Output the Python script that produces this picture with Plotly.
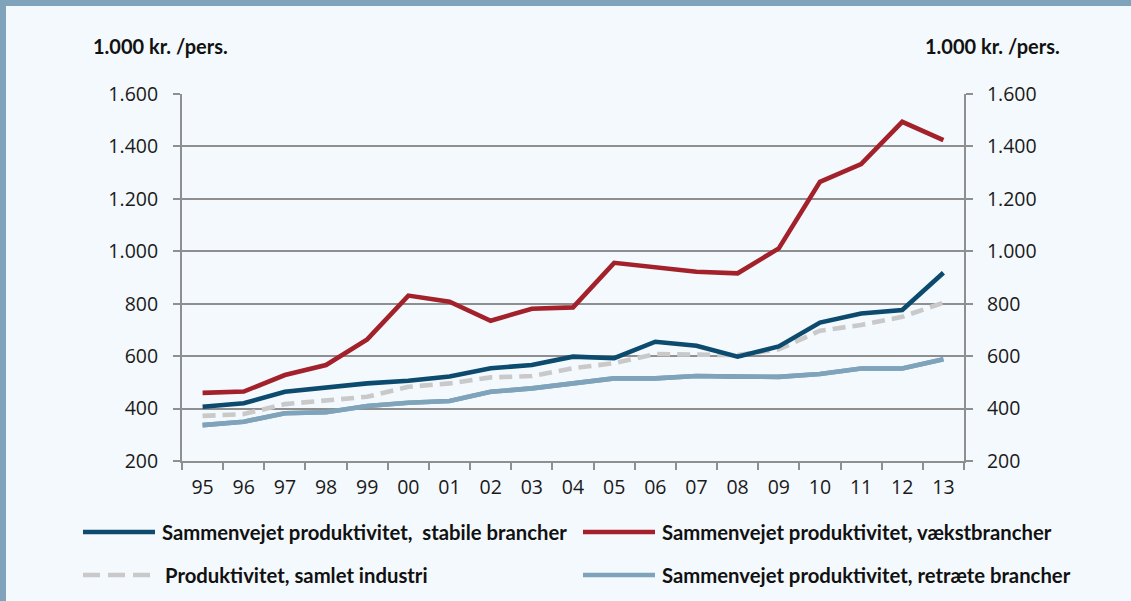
import plotly.graph_objects as go

years = ["95", "96", "97", "98", "99", "00", "01", "02", "03", "04",
         "05", "06", "07", "08", "09", "10", "11", "12", "13"]
stabile = [407, 420, 464, 481, 496, 506, 522, 554, 566, 598,
           592, 655, 640, 598, 637, 728, 763, 776, 918]
vaekst = [460, 465, 528, 566, 664, 831, 808, 735, 781, 786,
          956, 939, 922, 916, 1011, 1265, 1333, 1494, 1424]
samlet = [372, 379, 417, 430, 445, 483, 496, 519, 524, 554,
          573, 608, 608, 604, 626, 697, 719, 750, 804]
retraete = [337, 350, 382, 386, 410, 422, 429, 464, 477, 496,
            515, 515, 524, 522, 521, 532, 553, 553, 588]

names = ["Sammenvejet produktivitet,  stabile brancher",
         "Sammenvejet produktivitet, vækstbrancher",
         "Produktivitet, samlet industri",
         "Sammenvejet produktivitet, retræte brancher"]
colors = ["#0c4a6e", "#a3212a", "#c9c9c9", "#7fa3ba"]
dashes = ["solid", "solid", "13px,7px", "solid"]
unit_label = "1.000 kr. /pers."

W, H = 1131, 601
L, R, T, B = 182, 964, 94, 461
pw, ph = R - L, B - T


def px(x):
    return (x - L) / pw


def py(y):
    return (B - y) / ph


fig = go.Figure()
series = [stabile, vaekst, samlet, retraete]
order = [3, 2, 0, 1]
for i in order:
    fig.add_trace(go.Scatter(
        x=years, y=series[i], mode="lines", name=names[i],
        line=dict(color=colors[i], width=4.6, dash=dashes[i]),
        showlegend=False, hoverinfo="skip"))
fig.add_trace(go.Scatter(x=years, y=retraete, yaxis="y2", mode="lines",
                         line=dict(color=colors[3], width=4.6),
                         showlegend=False, hoverinfo="skip"))

gridc = "#8f8f8f"
tickfont = dict(family="Open Sans, Noto Sans, sans-serif", size=19.5, color="#1a1a1a")
fig.update_layout(
    width=W, height=H,
    margin=dict(l=L, r=W - R, t=T, b=H - B, pad=0),
    paper_bgcolor="#f4f9fd", plot_bgcolor="#f4f9fd",
    separators=",.",
    xaxis=dict(type="category", range=[-0.5, len(years) - 0.5],
               showline=True, linecolor=gridc, linewidth=2,
               ticks="outside", tickson="boundaries", ticklen=7, tickcolor=gridc,
               tickwidth=2, showgrid=False, tickfont=tickfont, ticklabelstandoff=8),
    yaxis=dict(range=[200, 1600], dtick=200, tickformat=",d", showline=True,
               linecolor=gridc, linewidth=2, ticks="outside", ticklen=7,
               tickcolor=gridc, tickwidth=2, gridcolor=gridc, gridwidth=2,
               tickfont=tickfont, ticklabelstandoff=11, zeroline=False),
    yaxis2=dict(range=[200, 1600], dtick=200, tickformat=",d", overlaying="y",
                side="right", showline=True, linecolor=gridc, linewidth=2,
                ticks="outside", ticklen=7, tickcolor=gridc, tickwidth=2,
                showgrid=False, tickfont=tickfont, ticklabelstandoff=10,
                zeroline=False),
    showlegend=False,
)

# frame
frame = "#7fa3ba"
fig.add_shape(type="rect", xref="paper", yref="paper", x0=px(-2), x1=px(W + 2),
              y0=py(6), y1=py(-2), fillcolor=frame, line_width=0, layer="above")
fig.add_shape(type="rect", xref="paper", yref="paper", x0=px(-2), x1=px(6),
              y0=py(H + 2), y1=py(-2), fillcolor=frame, line_width=0, layer="above")

hfont = dict(family="Lato, Open Sans, sans-serif", size=20, color="#111111")
fig.add_annotation(x=px(91), y=py(46), xref="paper", yref="paper", text="<b>" + unit_label + "</b>",
                   showarrow=False, xanchor="left", yanchor="middle", font=hfont)
fig.add_annotation(x=px(1062), y=py(46), xref="paper", yref="paper", text="<b>" + unit_label + "</b>",
                   showarrow=False, xanchor="right", yanchor="middle", font=hfont)

# legend (manual)
lfont = dict(family="Lato, Open Sans, sans-serif", size=20.3, color="#111111")
leg = [(0, 83, 155, 160, 532), (1, 583, 655, 660, 532),
       (2, 83, 150, 163, 575), (3, 583, 655, 660, 575)]
for i, x0, x1, xt, yy in leg:
    fig.add_shape(type="line", xref="paper", yref="paper", x0=px(x0), x1=px(x1),
                  y0=py(yy), y1=py(yy),
                  line=dict(color=colors[i], width=4.6,
                            dash="17px,8px" if i == 2 else "solid"))
    fig.add_annotation(x=px(xt), y=py(yy), xref="paper", yref="paper",
                       text="<b>" + names[i] + "</b>", showarrow=False,
                       xanchor="left", yanchor="middle", font=lfont)

fig.write_html("out.html", config={"displayModeBar": False},
               post_script="document.body.style.margin='0';")
